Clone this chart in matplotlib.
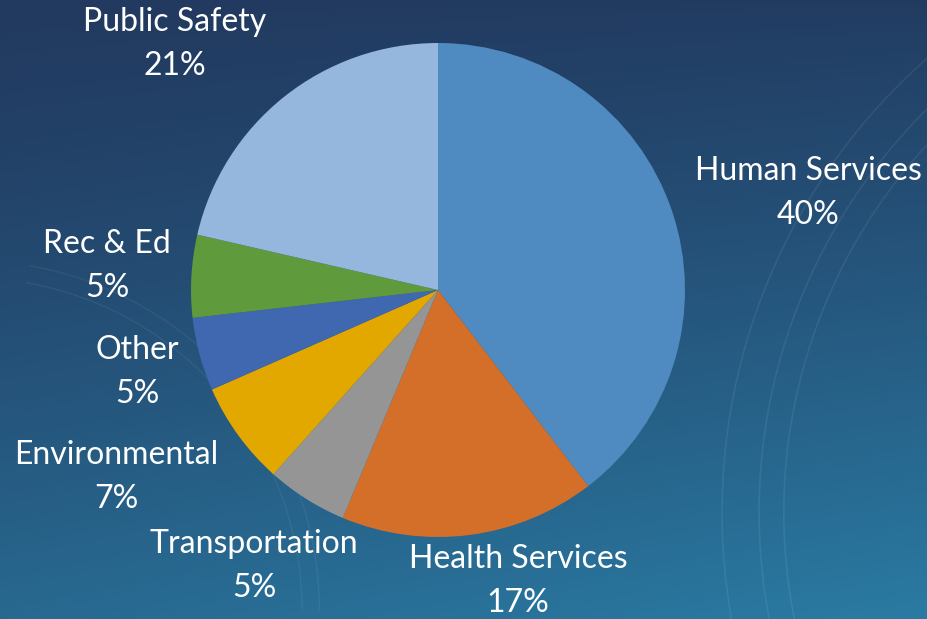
import numpy as np
import matplotlib.pyplot as plt
from matplotlib.colors import to_rgb
from matplotlib.patches import Arc

# -------------------- Data --------------------
categories = ["Human Services", "Health Services", "Transportation", "Environmental",
              "Other", "Rec & Ed", "Public Safety"]
shares = [39.6, 16.7, 5.3, 6.8, 4.8, 5.4, 21.4]
pct_shown = [40, 17, 5, 7, 5, 5, 21]
colors = ["#4f8bc0", "#d36f29", "#959595", "#e3a800", "#3f68b0", "#5f9a3c", "#95b7de"]

# label centres (pixels from top-left), the way the slide lays them out
label_px = [(808, 193), (518, 581), (254, 566), (116, 477), (137, 372), (107, 266), (175, 44)]

# -------------------- Figure --------------------
W, H, dpi = 928, 619, 100
R_PX = 247
cx, cy = 438, 290  # pie centre in pixels (from top-left)

fig = plt.figure(figsize=(W / dpi, H / dpi), dpi=dpi)
ax = fig.add_axes([0, 0, 1, 1])
xlim = (-cx / R_PX, (W - cx) / R_PX)
ylim = (-(H - cy) / R_PX, cy / R_PX)

# background gradient: navy top-left -> teal bottom-right
top_left = np.array(to_rgb("#223a60"))
bot_right = np.array(to_rgb("#2a7ba3"))
gx, gy = np.meshgrid(np.linspace(0, 1, 300), np.linspace(0, 1, 200))
t = np.clip(0.72 * gy ** 1.3 + 0.28 * gx * gy ** 0.5, 0, 1)
img = top_left[None, None, :] * (1 - t[..., None]) + bot_right[None, None, :] * t[..., None]
ax.imshow(img, extent=[xlim[0], xlim[1], ylim[0], ylim[1]], origin="upper",
          aspect="auto", zorder=0)

# faint blueprint arcs in the background
for rr in [2.2, 2.3, 2.45]:
    ax.add_patch(Arc((3.6, -0.9), 2 * rr, 2 * rr, theta1=95, theta2=200,
                     color="white", alpha=0.07, lw=1.2, zorder=1))
for rr in [1.35, 1.42]:
    ax.add_patch(Arc((-1.9, -1.3), 2 * rr, 2 * rr, theta1=0, theta2=80,
                     color="white", alpha=0.06, lw=1.0, zorder=1))

wedges, _ = ax.pie(shares, colors=colors, startangle=90, counterclock=False,
                   radius=1, normalize=True, wedgeprops=dict(linewidth=0))
for w in wedges:
    w.set_zorder(2)

ax.set_xlim(*xlim)
ax.set_ylim(*ylim)
ax.set_aspect("equal")
ax.axis("off")

# -------------------- Labels --------------------
for (px, py), name, val in zip(label_px, categories, pct_shown):
    ax.text((px - cx) / R_PX, (cy - py) / R_PX, f"{name}\n{val}%",
            ha="center", va="center", color="white", fontsize=23,
            family=["Lato", "DejaVu Sans"], linespacing=1.55,
            multialignment="center", zorder=3)

fig.savefig("out.png", dpi=dpi)
